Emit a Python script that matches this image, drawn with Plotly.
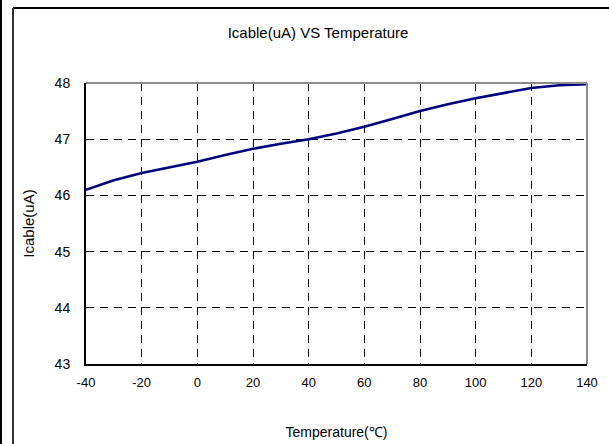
import plotly.graph_objects as go

temperature = [-40, -30, -20, -10, 0, 10, 20, 30, 40, 50, 60, 70, 80, 90, 100, 110, 120, 130, 140]
icable = [46.10, 46.27, 46.40, 46.50, 46.60, 46.72, 46.83, 46.92, 47.00, 47.10, 47.22, 47.36, 47.50, 47.62, 47.73, 47.82, 47.91, 47.96, 47.98]

x_ticks = [-40, -20, 0, 20, 40, 60, 80, 100, 120, 140]
y_ticks = [43, 44, 45, 46, 47, 48]

W, H = 609, 444
L, R, T, B = 86, 22, 83, 80
pw, ph = W - L - R, H - T - B

def px(x):
    return (x - L) / pw

def py(y):
    return (H - B - y) / ph

FONT = "Liberation Sans, Arial, sans-serif"

fig = go.Figure()
fig.add_trace(go.Scatter(
    x=temperature, y=icable, mode="lines",
    line=dict(color="#000080", width=2.6),
    showlegend=False, hoverinfo="skip",
))

fig.update_layout(
    width=W, height=H,
    margin=dict(l=L, r=R, t=T, b=B, autoexpand=False),
    paper_bgcolor="white", plot_bgcolor="white",
    font=dict(family=FONT, color="black", size=13),
    title=dict(text="Icable(uA) VS Temperature", x=318 / W, xanchor="center",
               y=1 - 33 / H, yanchor="middle", yref="container",
               font=dict(family=FONT, size=15, color="black")),
    xaxis=dict(
        range=[-40, 140], tickvals=x_ticks, ticktext=[str(v) for v in x_ticks],
        showgrid=True, gridcolor="black", gridwidth=1, griddash="8px,6px",
        showline=True, linecolor="black", linewidth=2,
        ticks="", ticklabelstandoff=5, zeroline=False, automargin=False,
        tickfont=dict(size=13),
        title=dict(text="Temperature(℃)", standoff=39, font=dict(size=14)),
    ),
    yaxis=dict(
        range=[43, 48], tickvals=y_ticks, ticktext=[str(v) for v in y_ticks],
        showgrid=True, gridcolor="black", gridwidth=1, griddash="8px,6px",
        showline=True, linecolor="black", linewidth=2,
        ticks="", ticklabelstandoff=11, zeroline=False, automargin=False,
        tickfont=dict(size=14),
        title=dict(text="Icable(uA)", standoff=16, font=dict(size=15)),
    ),
    shapes=[
        dict(type="line", xref="paper", yref="paper", x0=0, x1=1, y0=1, y1=1,
             line=dict(color="#8c8c8c", width=2)),
        dict(type="line", xref="paper", yref="paper", x0=1, x1=1, y0=0, y1=1,
             line=dict(color="#8c8c8c", width=2)),
        dict(type="line", xref="paper", yref="paper", x0=px(13), x1=px(W + 5), y0=py(8), y1=py(8),
             line=dict(color="black", width=2)),
        dict(type="line", xref="paper", yref="paper", x0=px(13), x1=px(13), y0=py(8), y1=py(H + 5),
             line=dict(color="#333333", width=2)),
        dict(type="line", xref="paper", yref="paper", x0=px(1), x1=px(1), y0=py(-5), y1=py(H + 5),
             line=dict(color="black", width=2)),
    ],
)

fig.write_html("out.html", config={"displayModeBar": False})

with open("out.html", "r", encoding="utf-8") as f:
    html = f.read()
html = html.replace("<head>", "<head><style>html,body{margin:0;padding:0;overflow:hidden;}</style>", 1)
with open("out.html", "w", encoding="utf-8") as f:
    f.write(html)
